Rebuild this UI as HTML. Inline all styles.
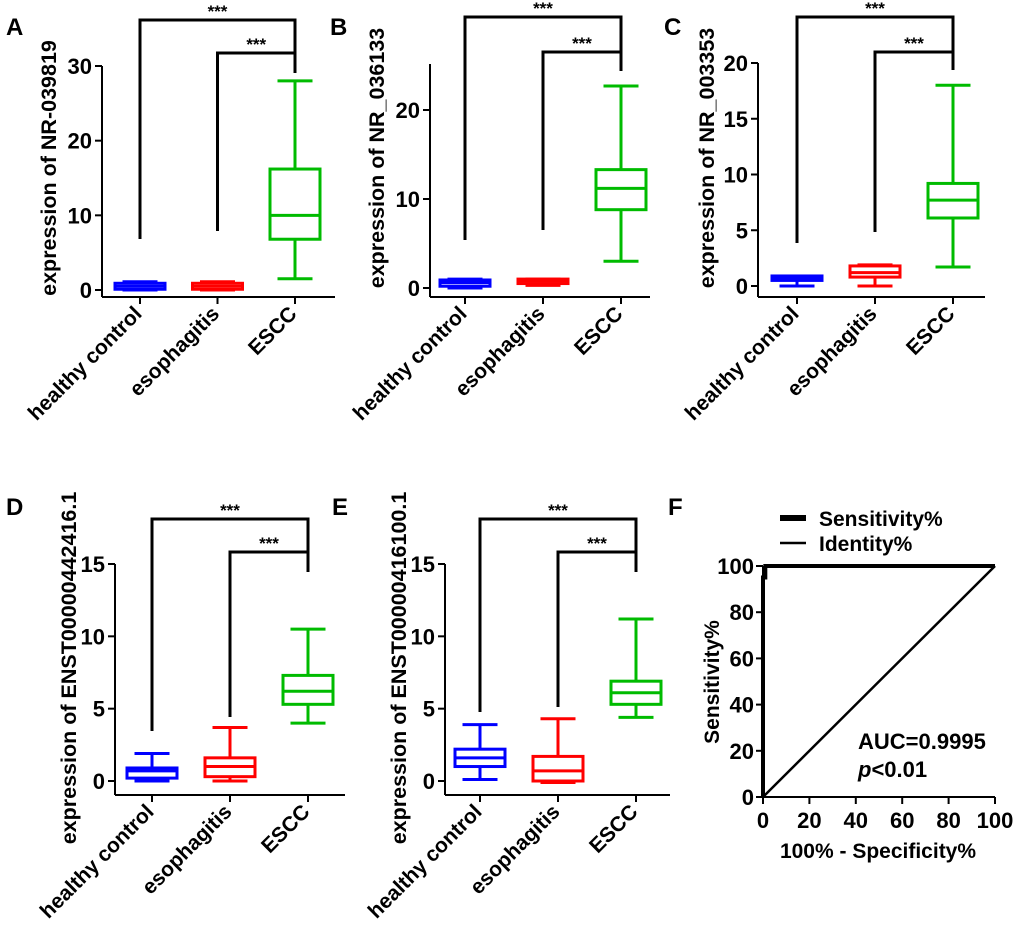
<!DOCTYPE html>
<html><head><meta charset="utf-8"><style>
body{margin:0;background:#fff}
svg{display:block;font-family:"Liberation Sans",Arial,sans-serif;font-weight:bold}
</style></head><body>
<svg id="fig" width="1020" height="941" viewBox="0 0 1020 941"></svg>
<script>
const categories=["healthy control","esophagitis","ESCC"];
const colors=["#0000ff","#ff0000","#00bb00"];
// box stats per panel: [min,q1,median,q3,max]
const boxA=[[0,0.1,0.5,0.9,1.1],[0,0.1,0.5,0.9,1.1],[1.5,6.8,10,16.2,28]];
const boxB=[[0,0.2,0.6,0.9,1.0],[0.3,0.5,0.8,1.0,1.0],[3,8.8,11.2,13.3,22.7]];
const boxC=[[0,0.5,0.7,0.9,0.9],[0,0.8,1.2,1.8,1.9],[1.7,6.1,7.7,9.2,18]];
const boxD=[[0,0.2,0.7,0.9,1.9],[0,0.3,1.0,1.6,3.7],[4,5.3,6.2,7.3,10.5]];
const boxE=[[0.1,1.0,1.6,2.2,3.9],[-0.1,0,0.7,1.7,4.3],[4.4,5.3,6.1,6.9,11.2]];
const ticksA=[0,10,20,30],ticksB=[0,10,20],ticksC=[0,5,10,15,20],ticksD=[0,5,10,15],ticksE=[0,5,10,15];
const rocX=[0,0,0,1,1,100];
const rocY=[0,93,95,95,100,100];
const rocTicks=[0,20,40,60,80,100];

const svg=document.getElementById('fig');
const NS="http://www.w3.org/2000/svg";
function el(tag,attrs,parent){const e=document.createElementNS(NS,tag);for(const k in attrs)e.setAttribute(k,attrs[k]);(parent||svg).appendChild(e);return e;}
function txt(s,attrs,parent){const t=el('text',attrs,parent);t.textContent=s;return t;}

function panel(p){
  const g=el('g',{});
  
  
  const y=v=>p.y0-(v-p.vmin)*(p.y0-p.ytop)/(p.vmax-p.vmin);
  const x=i=>p.cx0+i*p.dx;
  const L=txt(p.letter,{x:p.lx,y:p.ly,'font-size':24},g);
  
  const ya=el('line',{x1:p.ax,y1:y(p.ticks[p.ticks.length-1])-(p.extra||0),x2:p.ax,y2:p.axY,stroke:'#000','stroke-width':2},g);
  
  p.ticks.forEach(t=>{el('line',{x1:p.ax-7,y1:y(t),x2:p.ax,y2:y(t),stroke:'#000','stroke-width':2},g);
    const tl=txt(t,{x:p.ax-10,y:y(t)+8,'text-anchor':'end','font-size':22},g);
    });
  const xa=el('line',{x1:p.ax,y1:p.axY,x2:p.axEnd,y2:p.axY,stroke:'#000','stroke-width':2},g);
  
  const yt=txt(p.title,{transform:`translate(${p.titleX},${p.titleY}) rotate(-90)`,'text-anchor':'middle','font-size':p.tfs||21.5},g);
  
  categories.forEach((c,i)=>{
    el('line',{x1:x(i),y1:p.axY,x2:x(i),y2:p.axY+7,stroke:'#000','stroke-width':2},g);
    const cl=txt(c,{transform:`translate(${x(i)+3},${p.axY+18}) rotate(-45)`,'text-anchor':'end','font-size':21},g);
    
    const b=p.data[i],col=colors[i],w=p.bw/2,xc=x(i);
    const bg=el('g',{stroke:col,'stroke-width':3,fill:'none'},g);
    
    el('line',{x1:xc,y1:y(b[0]),x2:xc,y2:y(b[1])},bg);
    el('line',{x1:xc,y1:y(b[3]),x2:xc,y2:y(b[4])},bg);
    el('line',{x1:xc-w*0.7,y1:y(b[0]),x2:xc+w*0.7,y2:y(b[0])},bg);
    el('line',{x1:xc-w*0.7,y1:y(b[4]),x2:xc+w*0.7,y2:y(b[4])},bg);
    el('rect',{x:xc-w,y:y(b[3]),width:2*w,height:Math.max(1,y(b[1])-y(b[3]))},bg);
    el('line',{x1:xc-w,y1:y(b[2]),x2:xc+w,y2:y(b[2])},bg);
  });
  const br=el('g',{stroke:'#000','stroke-width':3,fill:'none'},g);
  
  el('polyline',{points:`${x(0)},${p.b1l} ${x(0)},${p.b1} ${x(2)},${p.b1} ${x(2)},${p.b2}`},br);
  el('polyline',{points:`${x(1)},${p.b2l} ${x(1)},${p.b2} ${x(2)},${p.b2} ${x(2)},${p.br}`},br);
  const s1=txt('***',{x:(x(0)+x(2))/2,y:p.b1-3,'text-anchor':'middle','font-size':17},g);
  
  const s2=txt('***',{x:(x(1)+x(2))/2,y:p.b2-3,'text-anchor':'middle','font-size':17},g);
  
}
panel({letter:'A',lx:6,ly:35,ax:102,axY:297,axEnd:335,vmin:0,vmax:30,y0:290,ytop:66,ticks:ticksA,title:'expression of NR-039819',titleX:56,titleY:168,cx0:140,dx:77.5,bw:50,data:boxA,b1:20,b1l:239,b2:53,b2l:231,br:73});
panel({letter:'B',lx:330,ly:35,ax:430,axY:297,axEnd:650,vmin:0,vmax:20,y0:288,ytop:110,ticks:ticksB,extra:46,title:'expression of NR_036133',titleX:384,titleY:158,cx0:465,dx:78,bw:50,data:boxB,b1:17,b1l:240,b2:52,b2l:230,br:71});
panel({letter:'C',lx:664,ly:35,ax:758,axY:297,axEnd:985,vmin:0,vmax:20,y0:286,ytop:63,ticks:ticksC,title:'expression of NR_003353',titleX:714,titleY:158,cx0:797,dx:78,bw:50,data:boxC,b1:17,b1l:243,b2:52,b2l:232,br:70});
panel({letter:'D',lx:6,ly:515,ax:115,axY:795,axEnd:345,vmin:0,vmax:15,y0:781,ytop:564,ticks:ticksD,title:'expression of ENST00000442416.1',titleX:76,titleY:668,cx0:152,dx:78,bw:50,data:boxD,b1:519,b1l:731,b2:552,b2l:717,br:572});
panel({letter:'E',lx:332,ly:515,ax:445,axY:795,axEnd:670,vmin:0,vmax:15,y0:781,ytop:564,ticks:ticksE,title:'expression of ENST00000416100.1',titleX:406,titleY:668,cx0:480,dx:78,bw:50,data:boxE,b1:519,b1l:712,b2:552,b2l:707,br:572});

(function(){
  const g=el('g',{});
  
  const X=v=>763+v*2.32,Y=v=>797-v*2.31;
  const L=txt('F',{x:668,y:515,'font-size':24},g);
  
  el('line',{x1:X(0),y1:Y(100),x2:X(0),y2:Y(0),stroke:'#000','stroke-width':2},g);
  el('line',{x1:X(0),y1:Y(0),x2:X(100),y2:Y(0),stroke:'#000','stroke-width':2},g);
  rocTicks.forEach(t=>{
    el('line',{x1:X(0)-7,y1:Y(t),x2:X(0),y2:Y(t),stroke:'#000','stroke-width':2},g);
    const a=txt(t,{x:X(0)-9,y:Y(t)+8,'text-anchor':'end','font-size':22},g);
    
    el('line',{x1:X(t),y1:Y(0),x2:X(t),y2:Y(0)+7,stroke:'#000','stroke-width':2},g);
    const b=txt(t,{x:X(t),y:Y(0)+31,'text-anchor':'middle','font-size':22},g);
    
  });
  const id=el('line',{x1:X(0),y1:Y(0),x2:X(100),y2:Y(100),stroke:'#000','stroke-width':2.5},g);
  
  const roc=el('polyline',{points:rocX.map((v,i)=>X(v)+','+Y(rocY[i])).join(' '),stroke:'#000','stroke-width':4,fill:'none'},g);
  
  el('line',{x1:780,y1:518,x2:806,y2:518,stroke:'#000','stroke-width':6},g);
  const l1=txt('Sensitivity%',{x:819,y:526,'font-size':21},g);
  
  el('line',{x1:780,y1:543,x2:806,y2:543,stroke:'#000','stroke-width':2.5},g);
  const l2=txt('Identity%',{x:819,y:551,'font-size':21},g);
  
  const yt=txt('Sensitivity%',{transform:'translate(719,682) rotate(-90)','text-anchor':'middle','font-size':21},g);
  
  const xt=txt('100% - Specificity%',{x:878,y:858,'text-anchor':'middle','font-size':21},g);
  
  const auc=txt('AUC=0.9995',{x:858,y:749,'font-size':22},g);
  
  const pv=txt('',{x:858,y:777,'font-size':22},g);
  
  const ts=document.createElementNS(NS,'tspan');ts.setAttribute('font-style','italic');ts.textContent='p';pv.appendChild(ts);
  pv.appendChild(document.createTextNode('<0.01'));
})();
</script>
</body></html>
